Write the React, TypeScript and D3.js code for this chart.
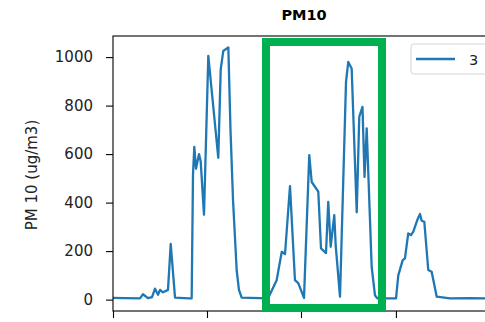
import { useEffect, useRef } from 'react';
import * as d3 from 'd3';

// hours since start of the record
const hours = [
  0, 12.8, 28.7, 31.9, 37.2, 41.5, 44.7, 47.9, 50, 53.2, 58.5, 61.4, 66, 80.9,
  83.7, 85.1, 86.5, 88.3, 91.5, 93.3, 96.8, 101.4, 112, 114.6, 117.3, 122.7,
  125, 127.7, 131.6, 134, 136.9, 164.9, 174.1, 179.5, 183, 188.3, 193.6, 197.1,
  200.7, 203.2, 208.8, 211.4, 218.4, 221.3, 226.6, 229, 231.6, 235.4, 236.9,
  241.5, 247.9, 250.3, 253.9, 259.3, 262, 265.4, 267.6, 269.9, 275.2, 278.7,
  281.2, 301.1, 303.5, 308.2, 310.6, 314.1, 317, 319.5, 323.7, 326.6, 328.4,
  331.2, 335.4, 339, 344.4, 358.5, 380, 400,
];
const pm10 = [
  7, 6, 5, 22, 6, 10, 45, 20, 40, 30, 40, 230, 8, 5,
  5, 515, 630, 540, 600, 570, 350, 1005, 585, 950, 1025, 1040,
  700, 410, 120, 40, 8, 5, 80, 197, 188, 468, 80, 68,
  32, 7, 596, 485, 445, 211, 192, 403, 218, 348, 225,
  12, 898, 980, 953, 360, 754, 795, 506, 706, 135, 18,
  5, 5, 100, 163, 170, 273, 266, 280, 328, 353, 325,
  321, 122, 115, 12, 5, 6, 5,
];
const yTicks = [0, 200, 400, 600, 800, 1000];
const xTicks = [0, 100, 200, 301];
const seriesName = '3';

export default function App() {
  const svgRef = useRef<SVGSVGElement>(null);

  useEffect(() => {
    const svg = d3.select(svgRef.current);
    svg.selectAll('*').remove();

    const width = 485;
    const height = 322;
    const left = 113, right = 495, top = 36, bottom = 311;
    const font = 'DejaVu Sans, sans-serif';

    svg.attr('width', width).attr('height', height);

    const x = d3.scaleLinear().domain([0, 406.4]).range([left, right]);
    const y = d3.scaleLinear().domain([-47, 1087]).range([bottom, top]);

    // title
    svg.append('text')
      .attr('x', 304).attr('y', 20)
      .attr('text-anchor', 'middle')
      .attr('font-family', font)
      .attr('font-weight', 'bold')
      .attr('font-size', '14.5px')
      .text('PM10');

    // line
    const data = hours.map((h, i) => [h, pm10[i]] as [number, number]);
    const line = d3.line<[number, number]>()
      .x(d => x(d[0]))
      .y(d => y(d[1]));

    svg.append('path')
      .datum(data)
      .attr('fill', 'none')
      .attr('stroke', '#1f77b4')
      .attr('stroke-width', 2.3)
      .attr('stroke-linejoin', 'round')
      .attr('d', line);

    // spines
    svg.append('rect')
      .attr('x', left).attr('y', top)
      .attr('width', right - left).attr('height', bottom - top)
      .attr('fill', 'none')
      .attr('stroke', '#000')
      .attr('stroke-width', 1.1);

    // y axis
    const yg = svg.append('g')
      .attr('transform', `translate(${left},0)`)
      .call(d3.axisLeft(y).tickValues(yTicks).tickSize(7).tickPadding(13).tickFormat(d3.format('d')));
    yg.select('.domain').remove();
    yg.selectAll('line').attr('stroke', '#000').attr('stroke-width', 1.1);
    yg.selectAll('text')
      .attr('font-family', font)
      .attr('font-size', '15px')
      .attr('fill', '#222');

    // x axis (labels are cut off below the picture)
    const xg = svg.append('g')
      .attr('transform', `translate(0,${bottom})`)
      .call(d3.axisBottom(x).tickValues(xTicks).tickSize(7).tickFormat(() => ''));
    xg.select('.domain').remove();
    xg.selectAll('line').attr('stroke', '#000').attr('stroke-width', 1.1);

    // y label
    svg.append('text')
      .attr('transform', 'translate(37,175) rotate(-90)')
      .attr('text-anchor', 'middle')
      .attr('font-family', font)
      .attr('font-size', '15px')
      .attr('fill', '#222')
      .text('PM 10 (ug/m3)');

    // legend
    const lg = svg.append('g');
    lg.append('rect')
      .attr('x', 411).attr('y', 44)
      .attr('width', 90).attr('height', 30)
      .attr('rx', 3)
      .attr('fill', '#fff')
      .attr('fill-opacity', 0.8)
      .attr('stroke', '#d5d5d5');
    lg.append('line')
      .attr('x1', 416).attr('x2', 455)
      .attr('y1', 59).attr('y2', 59)
      .attr('stroke', '#1f77b4')
      .attr('stroke-width', 2.3);
    lg.append('text')
      .attr('x', 469).attr('y', 64.5)
      .attr('font-family', font)
      .attr('font-size', '14.5px')
      .attr('fill', '#222')
      .text(seriesName);

    // highlight box
    svg.append('rect')
      .attr('x', 266).attr('y', 42)
      .attr('width', 116).attr('height', 266)
      .attr('fill', 'none')
      .attr('stroke', '#00b050')
      .attr('stroke-width', 8);
  }, []);

  return (
    <div style={{ position: 'absolute', left: 0, top: 0 }}>
      <svg ref={svgRef} style={{ display: 'block', overflow: 'hidden' }} />
    </div>
  );
}
